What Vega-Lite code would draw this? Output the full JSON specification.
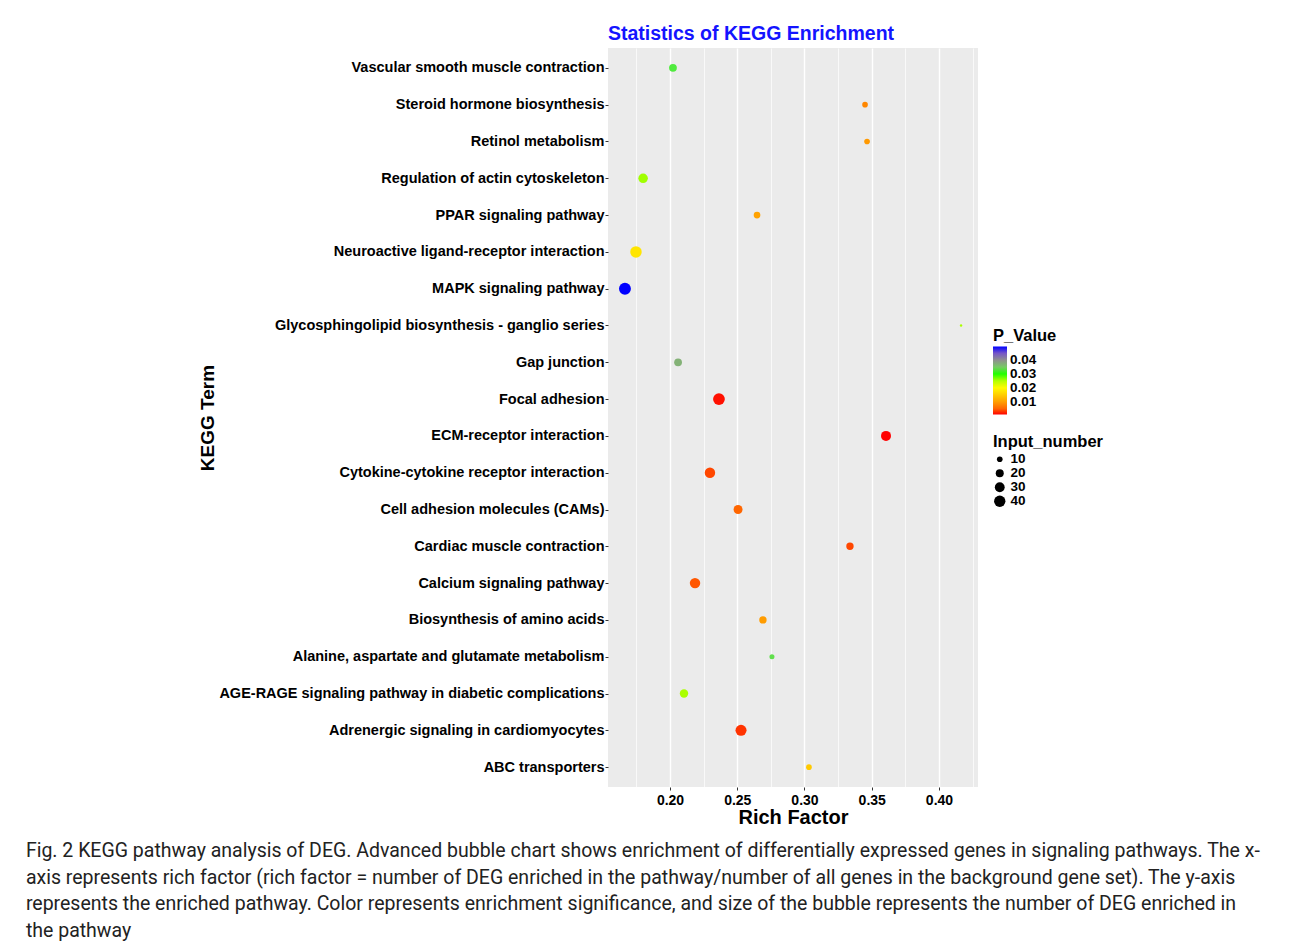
{
  "$schema": "https://vega.github.io/schema/vega-lite/v6.json",
  "background": "white",
  "padding": {"left": 25, "top": 23, "right": 5, "bottom": 5},
  "title": {
    "text": [
      "Fig. 2 KEGG pathway analysis of DEG. Advanced bubble chart shows enrichment of differentially expressed genes in signaling pathways. The x-",
      "axis represents rich factor (rich factor = number of DEG enriched in the pathway/number of all genes in the background gene set). The y-axis",
      "represents the enriched pathway. Color represents enrichment significance, and size of the bubble represents the number of DEG enriched in",
      "the pathway"
    ],
    "orient": "bottom",
    "anchor": "start",
    "frame": "bounds",
    "dx": -173,
    "offset": 15,
    "font": "Roboto",
    "fontSize": 19.5,
    "fontWeight": "normal",
    "color": "#222222",
    "lineHeight": 26.5,
    "limit": 3000
  },
  "vconcat": [
    {
      "width": 370,
      "height": 739,
      "title": {
        "text": "Statistics of KEGG Enrichment",
        "anchor": "start",
        "frame": "group",
        "color": "#1414FF",
        "font": "Liberation Sans",
        "fontSize": 19.5,
        "fontWeight": "bold",
        "offset": 4
      },
      "data": {
        "values": [
          {"term": "Vascular smooth muscle contraction", "rich": 0.2022, "count": 19, "p": 0.032},
          {"term": "Steroid hormone biosynthesis", "rich": 0.345, "count": 10, "p": 0.0078},
          {"term": "Retinol metabolism", "rich": 0.3465, "count": 10, "p": 0.0094},
          {"term": "Regulation of actin cytoskeleton", "rich": 0.18, "count": 28, "p": 0.026},
          {"term": "PPAR signaling pathway", "rich": 0.2647, "count": 14, "p": 0.0103},
          {"term": "Neuroactive ligand-receptor interaction", "rich": 0.1747, "count": 41, "p": 0.0175},
          {"term": "MAPK signaling pathway", "rich": 0.1665, "count": 44, "p": 0.0498},
          {"term": "Glycosphingolipid biosynthesis - ganglio series", "rich": 0.4164, "count": 2, "p": 0.0255},
          {"term": "Gap junction", "rich": 0.206, "count": 19, "p": 0.037},
          {"term": "Focal adhesion", "rich": 0.2364, "count": 43, "p": 0.001},
          {"term": "ECM-receptor interaction", "rich": 0.3606, "count": 31, "p": 0.0008},
          {"term": "Cytokine-cytokine receptor interaction", "rich": 0.2297, "count": 34, "p": 0.003},
          {"term": "Cell adhesion molecules (CAMs)", "rich": 0.2506, "count": 25, "p": 0.005},
          {"term": "Cardiac muscle contraction", "rich": 0.3338, "count": 17, "p": 0.003},
          {"term": "Calcium signaling pathway", "rich": 0.2186, "count": 34, "p": 0.004},
          {"term": "Biosynthesis of amino acids", "rich": 0.2691, "count": 17, "p": 0.0097},
          {"term": "Alanine, aspartate and glutamate metabolism", "rich": 0.2758, "count": 8, "p": 0.033},
          {"term": "AGE-RAGE signaling pathway in diabetic complications", "rich": 0.2104, "count": 22, "p": 0.0255},
          {"term": "Adrenergic signaling in cardiomyocytes", "rich": 0.2528, "count": 38, "p": 0.002},
          {"term": "ABC transporters", "rich": 0.3033, "count": 10, "p": 0.0145}
        ]
      },
      "mark": {"type": "circle", "opacity": 1, "strokeWidth": 0},
      "encoding": {
        "x": {
          "field": "rich",
          "type": "quantitative",
          "scale": {"domain": [0.1539, 0.429], "nice": false, "zero": false},
          "axis": {
            "title": "Rich Factor",
            "values": [0.175, 0.2, 0.225, 0.25, 0.275, 0.3, 0.325, 0.35, 0.375, 0.4, 0.425],
            "labelExpr": "round(datum.value*1000) % 50 == 0 ? format(datum.value, '.2f') : ''",
            "gridWidth": {"condition": {"test": "round(datum.value*1000) % 50 == 0", "value": 1.4}, "value": 0.7},
            "tickColor": {"condition": {"test": "round(datum.value*1000) % 50 == 0", "value": "#333333"}, "value": "transparent"},
            "labelFontSize": 14,
            "titleFontSize": 20,
            "titlePadding": 0,
            "labelPadding": 3
          }
        },
        "y": {
          "field": "term",
          "type": "nominal",
          "sort": [
            "Vascular smooth muscle contraction",
            "Steroid hormone biosynthesis",
            "Retinol metabolism",
            "Regulation of actin cytoskeleton",
            "PPAR signaling pathway",
            "Neuroactive ligand-receptor interaction",
            "MAPK signaling pathway",
            "Glycosphingolipid biosynthesis - ganglio series",
            "Gap junction",
            "Focal adhesion",
            "ECM-receptor interaction",
            "Cytokine-cytokine receptor interaction",
            "Cell adhesion molecules (CAMs)",
            "Cardiac muscle contraction",
            "Calcium signaling pathway",
            "Biosynthesis of amino acids",
            "Alanine, aspartate and glutamate metabolism",
            "AGE-RAGE signaling pathway in diabetic complications",
            "Adrenergic signaling in cardiomyocytes",
            "ABC transporters"
          ],
          "scale": {"type": "point", "padding": 0.54},
          "axis": {
            "title": "KEGG Term",
            "titleFontSize": 19,
            "titlePadding": 1,
            "labelFontSize": 14.5,
            "labelPadding": 1,
            "labelLimit": 600,
            "maxExtent": 600,
            "gridWidth": 1.4
          }
        },
        "color": {
          "field": "p",
          "type": "quantitative",
          "title": "P_Value",
          "scale": {
            "domain": [0.0008, 0.0106, 0.0204, 0.0302, 0.04, 0.0498],
            "range": ["#FF0000", "#FFA500", "#FFFF00", "#00FF00", "#8F8F8F", "#0000FF"],
            "interpolate": "lab"
          },
          "legend": {
            "orient": "none",
            "legendX": 385,
            "legendY": 280,
            "direction": "vertical",
            "values": [0.01, 0.02, 0.03, 0.04],
            "format": ".2f",
            "gradientLength": 68,
            "gradientThickness": 14,
            "gradientStrokeWidth": 0,
            "labelOffset": 3,
            "titlePadding": 2
          }
        },
        "size": {
          "field": "count",
          "type": "quantitative",
          "title": "Input_number",
          "scale": {"domain": [2, 45], "range": [6, 145]},
          "legend": {
            "orient": "none",
            "legendX": 385,
            "legendY": 386,
            "direction": "vertical",
            "values": [10, 20, 30, 40],
            "symbolType": "circle",
            "symbolFillColor": "black",
            "symbolStrokeWidth": 0,
            "symbolOpacity": 1,
            "rowPadding": -1.5,
            "labelOffset": 4,
            "titlePadding": 2,
            "encode": {"symbols": {"update": {"fill": {"value": "black"}, "opacity": {"value": 1}, "strokeWidth": {"value": 0}}}}
          }
        }
      }
    }
  ],
  "config": {
    "font": "Liberation Sans",
    "view": {"fill": "#EBEBEB", "stroke": null},
    "axis": {
      "labelFont": "Liberation Sans",
      "titleFont": "Liberation Sans",
      "labelFontWeight": "bold",
      "titleFontWeight": "bold",
      "labelColor": "#000000",
      "titleColor": "#000000",
      "domain": false,
      "gridColor": "#FFFFFF",
      "gridOpacity": 1,
      "tickSize": 3,
      "tickColor": "#333333",
      "tickWidth": 1
    },
    "legend": {
      "titleFont": "Liberation Sans",
      "labelFont": "Liberation Sans",
      "titleFontSize": 16.5,
      "titleFontWeight": "bold",
      "titleColor": "#000000",
      "labelFontSize": 13.5,
      "labelFontWeight": "bold",
      "labelColor": "#000000",
      "padding": 0
    }
  }
}
